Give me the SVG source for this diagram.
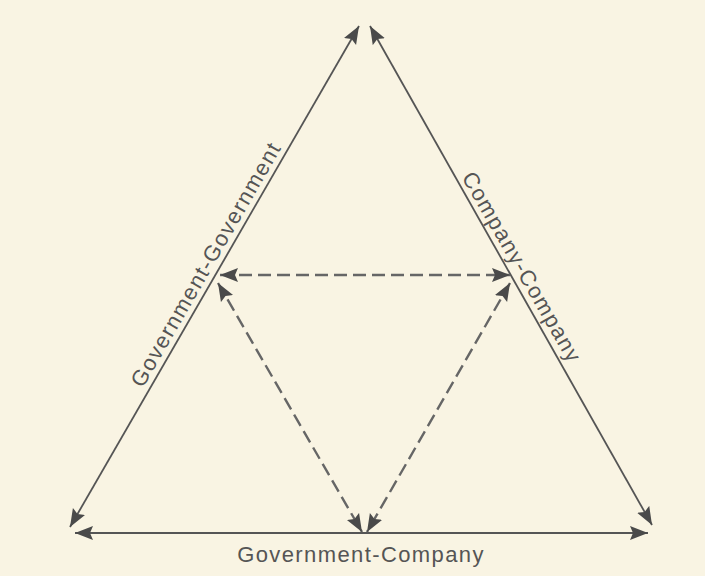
<svg xmlns="http://www.w3.org/2000/svg" width="705" height="576" viewBox="0 0 705 576">
  <style>
    .solid { stroke: #555; stroke-width: 1.8; fill: none; }
    .dash { stroke: #666; stroke-width: 2.4; fill: none; stroke-dasharray: 13 6; }
    .lbl { font-family: "Liberation Sans", Arial, sans-serif; font-size: 22px; fill: #555; letter-spacing: 1.4px; text-anchor: middle; }
  </style>
  <defs>
    <marker id="ah" markerUnits="userSpaceOnUse" markerWidth="20" markerHeight="16" refX="18" refY="7.5" orient="auto-start-reverse" viewBox="0 0 20 16">
      <path d="M0,0.5 L18,7.5 L0,14.5 L3,7.5 z" fill="#4a4a4a"/>
    </marker>
  </defs>
  <rect x="0" y="0" width="705" height="576" fill="#f9f4e3"/>
  <g id="connectors">
    <line id="gov-gov" class="solid" x1="70" y1="527" x2="359" y2="26" marker-start="url(#ah)" marker-end="url(#ah)"/>
    <line id="co-co" class="solid" x1="370" y1="26" x2="652" y2="525" marker-start="url(#ah)" marker-end="url(#ah)"/>
    <line id="gov-co" class="solid" x1="75" y1="533" x2="648" y2="533" marker-start="url(#ah)" marker-end="url(#ah)"/>
    <line id="inner-top" class="dash" x1="220" y1="275" x2="510" y2="275" marker-start="url(#ah)" marker-end="url(#ah)"/>
    <line id="inner-left" class="dash" x1="218" y1="283" x2="362" y2="532" marker-start="url(#ah)" marker-end="url(#ah)"/>
    <line id="inner-right" class="dash" x1="510" y1="283" x2="367" y2="532" marker-start="url(#ah)" marker-end="url(#ah)"/>
  </g>
  <g id="label-gov-gov">
    <text class="lbl" transform="translate(212.4,268) rotate(-60)">Government-Government</text>
  </g>
  <g id="label-co-co">
    <text class="lbl" transform="translate(515.4,271) rotate(60)">Company-Company</text>
  </g>
  <g id="label-gov-co">
    <text class="lbl" x="361" y="562">Government-Company</text>
  </g>
</svg>
